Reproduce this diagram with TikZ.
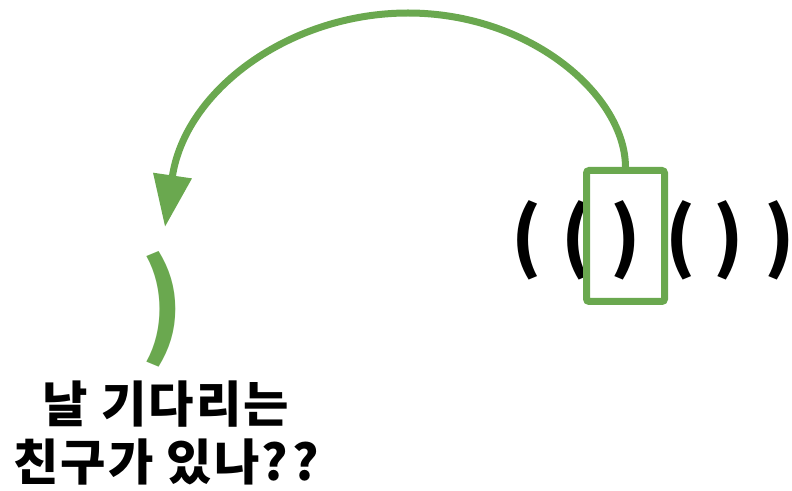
\documentclass[tikz,border=0pt]{standalone}
\usepackage{fontspec}
\setmainfont{Noto Sans CJK KR}
\usetikzlibrary{arrows.meta}
\definecolor{grn}{HTML}{6AA84F}
\begin{document}
\begin{tikzpicture}[x=0.75pt,y=-0.75pt,
  paren/.style={font=\fontsize{57}{60}\selectfont\bfseries, inner sep=0pt},
  bigparen/.style={font=\fontsize{83}{90}\selectfont\bfseries, inner sep=0pt, text=grn},
  selbox/.style={draw=grn, line width=5.25pt, rounded corners=2pt, minimum width=58.5pt, minimum height=98.25pt, inner sep=0pt},
  jump/.style={draw=grn, line width=5.25pt, -{Triangle[length=39pt,width=28pt]}},
  caption/.style={font=\fontsize{37}{43}\selectfont\bfseries\addfontfeature{LetterSpace=4}, align=center, inner sep=0pt}]
\useasboundingbox (0,0) rectangle (792,491);
\node[paren] (p1) at (527,240) {(};
\node[paren] (p2) at (577,240) {(};
\node[paren] (p3) at (626,240) {)};
\node[paren] (p4) at (681,240) {(};
\node[paren] (p5) at (729,240) {)};
\node[paren] (p6) at (780,240) {)};
\node[selbox] (box) at (625.5,236) {};
\node[bigparen] (gp) at (163,309) {)};
\coordinate (tip) at (165,227);
\draw[jump] (box.north) .. controls (625,95) and (530,13) .. (408,13)
  .. controls (290,13) and (185,90) .. (tip);
\node[caption] (cap) at (166,433) {날 기다리는\\친구가 있나?\kern3pt?};
\end{tikzpicture}
\end{document}
